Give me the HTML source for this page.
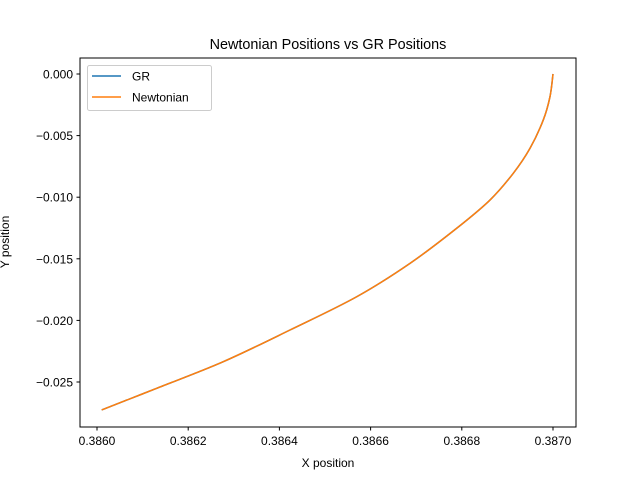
<!DOCTYPE html>
<html><head><meta charset="utf-8"><style>
body{margin:0;background:#fff}
svg{display:block;font-family:"Liberation Sans","DejaVu Sans",sans-serif}
</style></head><body>
<svg id="chart" width="640" height="480">
<rect width="640" height="480" fill="#fff"/>
<text x="328" y="49" text-anchor="middle" font-size="14.4">Newtonian Positions vs GR Positions</text>
<text x="328" y="467" text-anchor="middle" font-size="12">X position</text>
<text transform="translate(9,242) rotate(-90)" text-anchor="middle" font-size="12">Y position</text>
<g id="ticks"></g>
<g id="series"></g>
<rect x="80" y="58" width="496" height="369" fill="none" stroke="#000" stroke-width="1"/>
<g>
<rect x="87.5" y="65.5" width="124" height="45" rx="2" fill="#fff" fill-opacity="0.8" stroke="#ccc"/>
<line x1="92" y1="76" x2="121" y2="76" stroke="#1f77b4" stroke-width="1.5"/>
<text x="132" y="80.5" font-size="12">GR</text>
<line x1="92" y1="97" x2="121" y2="97" stroke="#ff7f0e" stroke-width="1.5"/>
<text x="132" y="101.5" font-size="12">Newtonian</text>
</g>
</svg>
<script>
const xTicks = [0.3860, 0.3862, 0.3864, 0.3866, 0.3868, 0.3870];
const xTickLabels = ["0.3860", "0.3862", "0.3864", "0.3866", "0.3868", "0.3870"];
const yTicks = [0, -0.005, -0.010, -0.015, -0.020, -0.025];
const yTickLabels = ["0.000", "−0.005", "−0.010", "−0.015", "−0.020", "−0.025"];
const grX = [0.3860103, 0.3861309, 0.3862770, 0.3864232, 0.3865695, 0.3866864, 0.3867888, 0.3868618, 0.3869129, 0.3869496, 0.3869787, 0.3869934, 0.3870000];
const grY = [-0.02727, -0.02551, -0.02335, -0.02078, -0.01808, -0.01537, -0.01252, -0.01023, -0.00806, -0.00603, -0.00373, -0.00184, 0.00000];
const newtX = [0.3860103, 0.3861309, 0.3862770, 0.3864232, 0.3865695, 0.3866864, 0.3867888, 0.3868618, 0.3869129, 0.3869496, 0.3869787, 0.3869934, 0.3870000];
const newtY = [-0.02727, -0.02551, -0.02335, -0.02078, -0.01808, -0.01537, -0.01252, -0.01023, -0.00806, -0.00603, -0.00373, -0.00184, 0.00000];

const NS = "http://www.w3.org/2000/svg";
function xs(v){ return 97 + (v - 0.3860) / 0.001 * 456; }
function ys(v){ return 74 + (-v) / 0.025 * 308; }
const tg = document.getElementById("ticks");
xTicks.forEach((t,i)=>{
  const l = document.createElementNS(NS,"line");
  l.setAttribute("x1",xs(t)); l.setAttribute("x2",xs(t)); l.setAttribute("y1",427); l.setAttribute("y2",430.5);
  l.setAttribute("stroke","#000");
  
  
  tg.appendChild(l);
  const tx = document.createElementNS(NS,"text");
  tx.setAttribute("x",xs(t)); tx.setAttribute("y",445); tx.setAttribute("text-anchor","middle"); tx.setAttribute("font-size","12");
  tx.textContent = xTickLabels[i];
  
  
  tg.appendChild(tx);
});
yTicks.forEach((t,i)=>{
  const l = document.createElementNS(NS,"line");
  l.setAttribute("x1",76.5); l.setAttribute("x2",80); l.setAttribute("y1",ys(t)); l.setAttribute("y2",ys(t));
  l.setAttribute("stroke","#000");
  
  
  tg.appendChild(l);
  const tx = document.createElementNS(NS,"text");
  tx.setAttribute("x",73); tx.setAttribute("y",ys(t)+4.5); tx.setAttribute("text-anchor","end"); tx.setAttribute("font-size","12");
  tx.textContent = yTickLabels[i];
  
  
  tg.appendChild(tx);
});
const sg = document.getElementById("series");
function smoothPath(P){
  let d = "M" + P[0][0] + "," + P[0][1];
  for(let i=0;i<P.length-1;i++){
    const p0=P[Math.max(i-1,0)], p1=P[i], p2=P[i+1], p3=P[Math.min(i+2,P.length-1)];
    const c1=[p1[0]+(p2[0]-p0[0])/6, p1[1]+(p2[1]-p0[1])/6];
    const c2=[p2[0]-(p3[0]-p1[0])/6, p2[1]-(p3[1]-p1[1])/6];
    d += " C"+c1[0]+","+c1[1]+" "+c2[0]+","+c2[1]+" "+p2[0]+","+p2[1];
  }
  return d;
}
function draw(X,Y,color,name){
  const P = X.map((x,i)=>[xs(x), ys(Y[i])]);
  const p = document.createElementNS(NS,"path");
  p.setAttribute("d", smoothPath(P));
  p.setAttribute("fill","none"); p.setAttribute("stroke",color); p.setAttribute("stroke-width","1.5");
  
  
  sg.appendChild(p);
}
draw(grX, grY, "#1f77b4", "gr-line");
draw(newtX, newtY, "#ff7f0e", "newtonian-line");
</script>
</body></html>
